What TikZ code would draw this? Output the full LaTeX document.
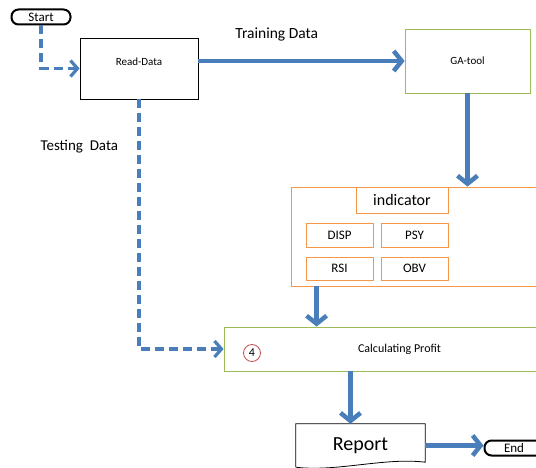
\documentclass[tikz,border=0pt]{standalone}
\usepackage{fontspec}
\setmainfont{Carlito}
\usetikzlibrary{arrows.meta, positioning}

\definecolor{flowblue}{RGB}{74,126,187}
\definecolor{gagreen}{RGB}{155,187,89}
\definecolor{indorange}{RGB}{247,150,70}
\definecolor{markred}{RGB}{192,80,77}
\newcommand{\fsz}[1]{\fontsize{#1}{#1}\selectfont}

\begin{document}
\begin{tikzpicture}[
    x=1pt, y=-1pt,
    term/.style={rectangle, draw, line width=2pt, rounded corners=7pt, minimum width=59pt, minimum height=15pt, inner sep=0pt},
    box/.style={rectangle, draw, line width=0.8pt, inner sep=0pt},
    gabox/.style={box, draw=gagreen},
    indbox/.style={box, draw=indorange, minimum width=67pt, minimum height=24pt, font=\fsz{13}},
    flow/.style={-{Straight Barb[length=8pt, width=20pt]}, line width=4.5pt, flowblue},
    dashflow/.style={-{Straight Barb[length=7pt, width=16pt]}, line width=3.2pt, flowblue, dash pattern=on 9pt off 5pt},
]
\clip (0,0) rectangle (536,468);

% Nodes
\node[term, font=\fsz{13}] (start) at (41,17) {Start};
\node[box, minimum width=118pt, minimum height=61pt,
      label={[font=\fsz{11}, yshift=7pt]center:Read-Data}] (read) at (139,68.5) {};
\node[gabox, minimum width=125pt, minimum height=64pt, font=\fsz{11}] (ga) at (467.5,61) {GA-tool};

% Indicator panel
\node[box, draw=indorange, minimum width=254pt, minimum height=99pt] (panel) at (418,236.5) {};
\node[box, draw=indorange, minimum width=92pt, minimum height=26pt, font=\fsz{16}] (ind) at (402,200) {indicator};
\node[indbox] (disp) at (339.5,235) {DISP};
\node[indbox] (psy) at (414.5,235) {PSY};
\node[indbox, minimum height=23pt] (rsi) at (339.5,268.5) {RSI};
\node[indbox, minimum height=23pt] (obv) at (414.5,268.5) {OBV};

\node[gabox, minimum width=321pt, minimum height=44pt,
      label={[font=\fsz{12}, xshift=15pt]center:Calculating Profit}] (calc) at (384.5,349) {};
\node[circle, draw=markred, line width=0.8pt, minimum size=17pt, inner sep=0pt, font=\fsz{12}] (step4) at (252,353) {4};

\node[minimum width=129pt, minimum height=43pt, inner sep=0pt, font=\fsz{20}] (report) at (360.5,445.5) {Report};
\draw[line width=0.8pt] (report.south west) -- (report.north west) -- (report.north east)
    -- ([yshift=5pt]report.south east)
    .. controls ([xshift=-40pt, yshift=10pt]report.south east) and ([xshift=40pt, yshift=-5pt]report.south west) .. (report.south west);
\node[term, font=\fsz{13}] (finish) at (514,448) {End};

% Arrows
\draw[dashflow] (start.south) |- (read.west);
\draw[flow] (read.east |- ga.west) -- node[pos=0.38, above=14pt, black, font=\fsz{15.5}] {Training Data} (ga.west);
\draw[flow] (ga.south) -- (ga.south |- panel.north);
\draw[dashflow] (read.south) |- node[pos=0.094, left=16pt, black, font=\fsz{15}] {Testing\ \ Data} (calc.west);
\draw[flow] ([xshift=11pt]rsi.west |- panel.south) -- ([xshift=11pt]rsi.west |- calc.north);
\draw[flow] ([xshift=-10pt]report.north |- calc.south) -- ([xshift=-10pt]report.north);
\draw[flow] (report.east) -- (report.east -| finish.west);

\end{tikzpicture}
\end{document}
